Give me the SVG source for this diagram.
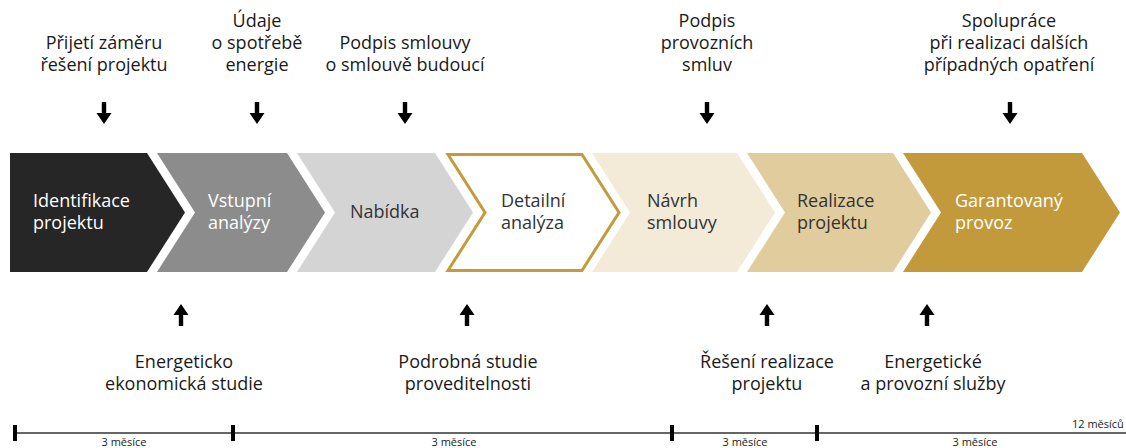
<svg xmlns="http://www.w3.org/2000/svg" width="1126" height="448" viewBox="0 0 1126 448">
<style>
.t{font-family:"Open Sans","Noto Sans","DejaVu Sans",sans-serif;font-size:18px;fill:#1a1a1a}
.c{text-anchor:middle}
.w{fill:#ffffff}
.d{fill:#333333}
.s{font-family:"Open Sans","Liberation Sans",sans-serif;font-size:11px;fill:#1a1a1a;text-anchor:middle}
.tick{fill:#000}
</style>
<defs>
<path id="dn" d="M-2.2,0 H2.2 V11 H7.5 L0,22 L-7.5,11 H-2.2 Z" fill="#000"/>
<path id="up" d="M-2.2,22 H2.2 V11 H7.5 L0,0 L-7.5,11 H-2.2 Z" fill="#000"/>
</defs>
<rect width="1126" height="448" fill="#fff"/>

<g id="chev1">
<path d="M10,153 H147 L185,212.5 L147,272 H10 Z" fill="#262626"/>
<text class="t w" x="33" y="207">Identifikace</text>
<text class="t w" x="33" y="229">projektu</text>
</g>
<g id="chev2">
<path d="M157,153 H287 L325,212.5 L287,272 H157 L195,212.5 Z" fill="#8c8c8c"/>
<text class="t w" x="208" y="207">Vstupní</text>
<text class="t w" x="208" y="229">analýzy</text>
</g>
<g id="chev3">
<path d="M297,153 H435 L473,212.5 L435,272 H297 L335,212.5 Z" fill="#d4d4d4"/>
<text class="t d" x="350" y="218">Nabídka</text>
</g>
<g id="chev4">
<path d="M448,154.5 H582 L619,212.5 L582,270.5 H448 L485,212.5 Z" fill="#fff" stroke="#c49b3c" stroke-width="3" stroke-linejoin="miter"/>
<text class="t d" x="501" y="207">Detailní</text>
<text class="t d" x="501" y="229">analýza</text>
</g>
<g id="chev5">
<path d="M592,153 H737 L775,212.5 L737,272 H592 L630,212.5 Z" fill="#f3ead8"/>
<text class="t d" x="647" y="207">Návrh</text>
<text class="t d" x="647" y="229">smlouvy</text>
</g>
<g id="chev6">
<path d="M747,153 H893 L931,212.5 L893,272 H747 L785,212.5 Z" fill="#e0cc9c"/>
<text class="t d" x="797" y="207">Realizace</text>
<text class="t d" x="797" y="229">projektu</text>
</g>
<g id="chev7">
<path d="M903,153 H1082 L1120,212.5 L1082,272 H903 L941,212.5 Z" fill="#c29a3c"/>
<text class="t w" x="955" y="207">Garantovaný</text>
<text class="t w" x="955" y="229">provoz</text>
</g>

<g id="top1">
<text class="t c" x="104" y="49">Přijetí záměru</text>
<text class="t c" x="104" y="71">řešení projektu</text>
</g>
<g id="top2">
<text class="t c" x="257" y="27">Údaje</text>
<text class="t c" x="257" y="49">o spotřebě</text>
<text class="t c" x="257" y="71">energie</text>
</g>
<g id="top3">
<text class="t c" x="405" y="49">Podpis smlouvy</text>
<text class="t c" x="405" y="71">o smlouvě budoucí</text>
</g>
<g id="top4">
<text class="t c" x="707" y="27">Podpis</text>
<text class="t c" x="707" y="49">provozních</text>
<text class="t c" x="707" y="71">smluv</text>
</g>
<g id="top5">
<text class="t c" x="1009" y="27">Spolupráce</text>
<text class="t c" x="1009" y="49">při realizaci dalších</text>
<text class="t c" x="1009" y="71">případných opatření</text>
</g>

<g id="bot1">
<text class="t c" x="184" y="368">Energeticko</text>
<text class="t c" x="184" y="390">ekonomická studie</text>
</g>
<g id="bot2">
<text class="t c" x="468" y="368">Podrobná studie</text>
<text class="t c" x="468" y="390">proveditelnosti</text>
</g>
<g id="bot3">
<text class="t c" x="767" y="368">Řešení realizace</text>
<text class="t c" x="767" y="390">projektu</text>
</g>
<g id="bot4">
<text class="t c" x="933" y="368">Energetické</text>
<text class="t c" x="933" y="390">a provozní služby</text>
</g>

<g id="connectors">
<use href="#dn" x="104" y="102"/>
<use href="#dn" x="257" y="102"/>
<use href="#dn" x="405" y="102"/>
<use href="#dn" x="707" y="102"/>
<use href="#dn" x="1010" y="102"/>
<use href="#up" x="181" y="304"/>
<use href="#up" x="467" y="304"/>
<use href="#up" x="767" y="304"/>
<use href="#up" x="927" y="304"/>
</g>

<g id="timeline">
<line x1="15" y1="433" x2="1126" y2="433" stroke="#333" stroke-width="1.5"/>
<rect class="tick" x="13" y="425" width="4" height="16"/>
<rect class="tick" x="231" y="425" width="4" height="16"/>
<rect class="tick" x="670" y="425" width="4" height="16"/>
<rect class="tick" x="815" y="425" width="4" height="16"/>
<text class="s" x="124" y="446">3 měsíce</text>
<text class="s" x="454" y="446">3 měsíce</text>
<text class="s" x="745" y="446">3 měsíce</text>
<text class="s" x="975" y="446">3 měsíce</text>
<text class="s" x="1072" y="428" style="text-anchor:start">12 měsíců</text>
</g>
</svg>
